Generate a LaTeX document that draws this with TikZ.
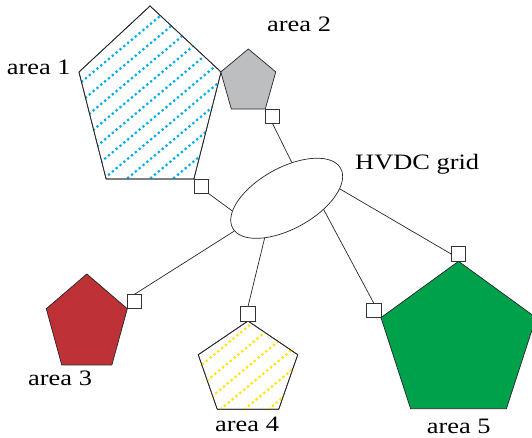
\documentclass[tikz,border=0pt]{standalone}
\usepackage{fontspec}
\setmainfont[FakeStretch=1.2]{Liberation Serif}
\usetikzlibrary{shapes.geometric}

\definecolor{areagray}{RGB}{188,190,192}
\definecolor{areared}{RGB}{190,50,55}
\definecolor{areagreen}{RGB}{0,161,75}
\definecolor{dotblue}{RGB}{0,174,239}
\definecolor{dotyellow}{RGB}{255,230,0}

\tikzset{
  area/.style={regular polygon, regular polygon sides=5, inner sep=0pt, outer sep=0pt, draw=black!85, line width=0.7pt},
  edge/.style={draw=black!85, line width=0.7pt, line join=round},
  port/.style={draw=black!80, fill=white, minimum size=14.5pt, inner sep=0pt, outer sep=0pt, line width=0.8pt},
  link/.style={draw=black!85, line width=0.7pt},
  hatch/.style={line width=2.2pt, dash pattern=on 2.2pt off 2.8pt},
  lbl/.style={font=\fontsize{22}{26}\selectfont, inner sep=0pt, anchor=base west},
}

\begin{document}
\begin{tikzpicture}[x=1pt,y=1pt]
\useasboundingbox (0,0) rectangle (532,438);

% areas
\node[area, fill=white, shift={(150,336.4)}, yscale=1.28, minimum size=149.4pt] (a1) at (0,0) {};
\begin{scope}
\clip (a1.corner 1) \foreach \c in {2,...,5}{-- (a1.corner \c)} -- cycle;
\foreach \k in {-9,...,9}
  \draw[hatch, dotblue, shift={(a1.center)}] (\k*23-130,-109) -- (\k*23+130,109);
\end{scope}
\draw[edge] (a1.corner 1) \foreach \c in {2,...,5}{-- (a1.corner \c)} -- cycle;

\node[area, fill=areagray, shift={(248.3,355.8)}, yscale=1.149, minimum size=57.8pt] (a2) at (0,0) {};
\node[area, fill=areared, shift={(86.8,113.7)}, yscale=1.181, minimum size=85.2pt] (a3) at (0,0) {};

\node[area, fill=white, shift={(248,68.2)}, yscale=0.933, minimum size=104.6pt] (a4) at (0,0) {};
\begin{scope}
\clip (a4.corner 1) \foreach \c in {2,...,5}{-- (a4.corner \c)} -- cycle;
\foreach \k in {-6,...,6}
  \draw[hatch, dotyellow, shift={(a4.center)}] (\k*24-4-90,-75) -- (\k*24-4+90,75);
\end{scope}
\draw[edge] (a4.corner 1) \foreach \c in {2,...,5}{-- (a4.corner \c)} -- cycle;

\node[area, fill=areagreen, shift={(458.5,95.2)}, minimum size=163pt] (a5) at (0,0) {};

% converter stations
\node[port, anchor=north west] (s1) at (a1.corner 4) {};
\node[port, anchor=north west] (s2) at (a2.corner 4) {};
\node[port, anchor=south west] (s3) at (a3.corner 5) {};
\node[port, anchor=south] (s4) at (a4.corner 1) {};
\node[port, anchor=south] (s5a) at (a5.corner 1) {};
\node[port, anchor=south east] (s5b) at (a5.corner 2) {};

% grid
\node[draw=black!85, fill=white, ellipse, line width=0.7pt, inner sep=0pt, minimum width=123.4pt, minimum height=61pt, rotate=29] (grid) at (286.7,239.7) {};
\draw[link] (s1.south east) -- (grid.164);
\draw[link] (s2.south) -- (grid.53);
\draw[link] (s3.north) -- (grid.183);
\draw[link] (s4.north) -- (grid.212);
\draw[link] (s5b.north) -- (grid.314);
\draw[link] (s5a.west) -- (grid.341);

% labels
\node[lbl] (t1) at (6.7,363) {area 1};
\node[lbl] (t2) at (267,406.3) {area 2};
\node[lbl] (t3) at (28,52) {area 3};
\node[lbl] (t4) at (215,6.3) {area 4};
\node[lbl] (t5) at (426.7,4) {area 5};
\node[lbl] (tg) at (355,268) {HVDC grid};
\end{tikzpicture}
\end{document}
